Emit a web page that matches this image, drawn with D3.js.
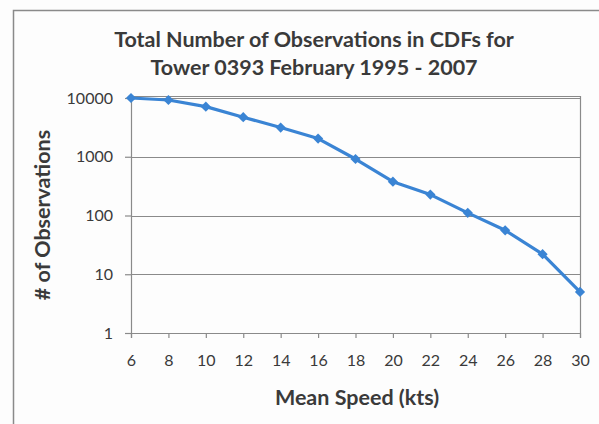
<!DOCTYPE html>
<html>
<head>
<meta charset="utf-8">
<script src="https://cdn.jsdelivr.net/npm/d3@7"></script>
<style>
  html, body { margin: 0; padding: 0; background: #fdfdfd; }
  svg { display: block; }
</style>
</head>
<body>
<script>
// Mean wind speed bins (kts) and number of observations in each CDF
const speeds = [6, 8, 10, 12, 14, 16, 18, 20, 22, 24, 26, 28, 30];
const observations = [10000, 9250, 7130, 4710, 3140, 2040, 915, 377, 227, 111, 56, 22, 5];
const yTicks = [1, 10, 100, 1000, 10000];
const xTicks = [6, 8, 10, 12, 14, 16, 18, 20, 22, 24, 26, 28, 30];
const titleLines = ["Total Number of Observations in CDFs for", "Tower 0393 February 1995 - 2007"];

const W = 599, H = 424;
const plot = { left: 131, right: 580, top: 98, bottom: 333 };
const font = "Lato, 'Open Sans', sans-serif";
const gray = "#8a8a8a";
const textColor = "#3a3a3a";
const blue = "#3a84d4";

const svg = d3.select("body").append("svg").attr("width", W).attr("height", H);

// chart frame
svg.append("path")
  .attr("d", `M13.5,${H} V10.5 H${W}`)
  .attr("fill", "none").attr("stroke", gray).attr("stroke-width", 1.5);

const x = d3.scaleLinear().domain([6, 30]).range([plot.left, plot.right]);
const y = d3.scaleLog().domain([1, 10000]).range([plot.bottom, plot.top]);

// horizontal gridlines
svg.append("g").selectAll("line").data(yTicks.slice(1)).join("line")
  .attr("x1", plot.left).attr("x2", plot.right)
  .attr("y1", d => Math.round(y(d)) + 0.5).attr("y2", d => Math.round(y(d)) + 0.5)
  .attr("stroke", gray).attr("stroke-width", 1.2);

// plot area outline: top and right edges
svg.append("path")
  .attr("d", `M${plot.left},${plot.top - 1.5} H${plot.right + 0.5} V${plot.bottom}`)
  .attr("fill", "none").attr("stroke", gray).attr("stroke-width", 1.2);

// y axis
const yAxis = svg.append("g")
  .attr("transform", `translate(${plot.left},0)`)
  .call(d3.axisLeft(y).tickValues(yTicks).tickFormat(d3.format("d")).tickSizeOuter(0).tickSize(6).tickPadding(12));
yAxis.select(".domain").attr("stroke", gray).attr("stroke-width", 1.2);
yAxis.selectAll(".tick line").attr("stroke", gray).attr("stroke-width", 1.2);
yAxis.selectAll(".tick text").attr("font-family", font).attr("font-size", 16).attr("fill", textColor);

// x axis
const xAxis = svg.append("g")
  .attr("transform", `translate(0,${plot.bottom})`)
  .call(d3.axisBottom(x).tickValues(xTicks).tickSizeOuter(0).tickSize(5).tickPadding(17));
xAxis.select(".domain").attr("stroke", gray).attr("stroke-width", 1.2);
xAxis.selectAll(".tick line").attr("stroke", gray).attr("stroke-width", 1.2);
xAxis.selectAll(".tick text").attr("font-family", font).attr("font-size", 16).attr("fill", textColor);

// data line with diamond markers
const line = d3.line().x((d, i) => x(speeds[i])).y(d => y(d));
svg.append("path")
  .datum(observations)
  .attr("d", line)
  .attr("fill", "none").attr("stroke", blue).attr("stroke-width", 3.2)
  .attr("stroke-linejoin", "round");

svg.append("g").selectAll("path").data(observations).join("path")
  .attr("d", d3.symbol(d3.symbolSquare, 52))
  .attr("transform", (d, i) => `translate(${x(speeds[i])},${y(d)}) rotate(45)`)
  .attr("fill", blue);

// title
svg.append("g").selectAll("text").data(titleLines).join("text")
  .attr("x", 314).attr("y", (d, i) => 47 + i * 28)
  .attr("text-anchor", "middle")
  .attr("font-family", font).attr("font-weight", "bold").attr("font-size", 21.5)
  .attr("fill", textColor)
  .text(d => d);

// axis titles
svg.append("text")
  .attr("x", 357).attr("y", 405)
  .attr("text-anchor", "middle")
  .attr("font-family", font).attr("font-weight", "bold").attr("font-size", 21.5)
  .attr("fill", textColor)
  .text("Mean Speed (kts)");

svg.append("text")
  .attr("transform", "translate(50,215) rotate(-90)")
  .attr("text-anchor", "middle")
  .attr("font-family", font).attr("font-weight", "bold").attr("font-size", 21.5)
  .attr("fill", textColor)
  .text("# of Observations");
</script>
</body>
</html>
